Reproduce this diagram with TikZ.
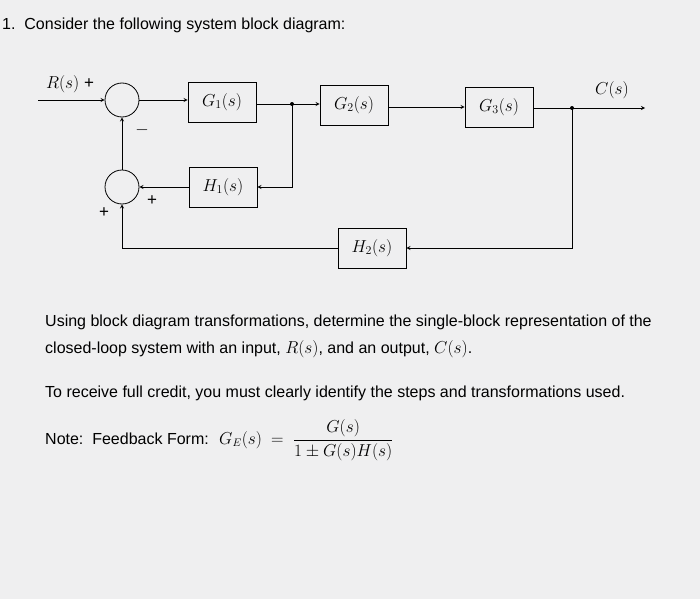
\documentclass[tikz,border=0pt]{standalone}
\usepackage{fontspec}
\setmainfont{Liberation Sans}
\begin{document}
\begin{tikzpicture}[x=1pt,y=-1pt,
  blk/.style={draw,thick,minimum width=68pt,minimum height=40pt,inner sep=0pt,font=\fontsize{17}{19}\selectfont},
  sm/.style={draw,thick,circle,minimum size=34pt,inner sep=0pt},
  ln/.style={thick},
  ar/.style={thick,->,>=stealth},
  lab/.style={font=\fontsize{17}{19}\selectfont},
  txt/.style={anchor=west,inner sep=0pt,font=\fontsize{16}{19}\selectfont}]
\fill[blue!4!gray!12] (0,0) rectangle (700,599);
\useasboundingbox (0,0) rectangle (700,599);
\node[txt] (t0) at (2,25) {1.\ \ Consider the following system block diagram:};
\node[sm] (s1) at (122,100) {};
\node[sm] (s2) at (122,187) {};
\node[blk] (g1) at (222,102) {$G_1(s)$};
\node[blk] (g2) at (354,105) {$G_2(s)$};
\node[blk] (g3) at (499,107) {$G_3(s)$};
\node[blk] (h1) at (223,187) {$H_1(s)$};
\node[blk] (h2) at (372,248) {$H_2(s)$};
\coordinate (in) at (38,100);
\coordinate (b1) at (292,104);
\coordinate (b2) at (572,108);
\coordinate (out) at (645,108);
\fill (b1) circle (2pt); \fill (b2) circle (2pt);
\draw[ar] (in) -- (s1.west);
\draw[ar] (s1.east) -- (g1.west |- s1.east);
\draw[ln] (g1.east |- b1) -- (b1);
\draw[ar] (b1) -- (g2.west |- b1);
\draw[ar] (g2.east |- g3.west) -- (g3.west);
\draw[ln] (g3.east |- b2) -- (b2);
\draw[ar] (b2) -- (out);
\draw[ar] (b1) |- (h1.east);
\draw[ar] (h1.west) -- (s2.east);
\draw[ar] (s2.north) -- (s1.south);
\draw[ar] (b2) |- (h2.east);
\draw[ar] (h2.west) -| (s2.south);
\node[lab] (lr) at (70,84) {$R(s)$ +};
\node[lab] (lc) at (612,90) {$C(s)$};
\node[lab] (m1) at (142,130) {$-$};
\node[lab] (p1) at (152,201) {+};
\node[lab] (p2) at (104,213) {+};
\node[txt] (t1) at (45,322) {Using block diagram transformations, determine the single-block representation of the};
\node[txt] (t2) at (45,349) {closed-loop system with an input, $R(s)$, and an output, $C(s)$.};
\node[txt] (t3) at (45,393) {To receive full credit, you must clearly identify the steps and transformations used.};
\node[txt] (t4) at (45,440) {Note:\ \ Feedback Form: \ $G_E(s)\ =\ \displaystyle\frac{G(s)}{1\pm G(s)H(s)}$};
\end{tikzpicture}
\end{document}
